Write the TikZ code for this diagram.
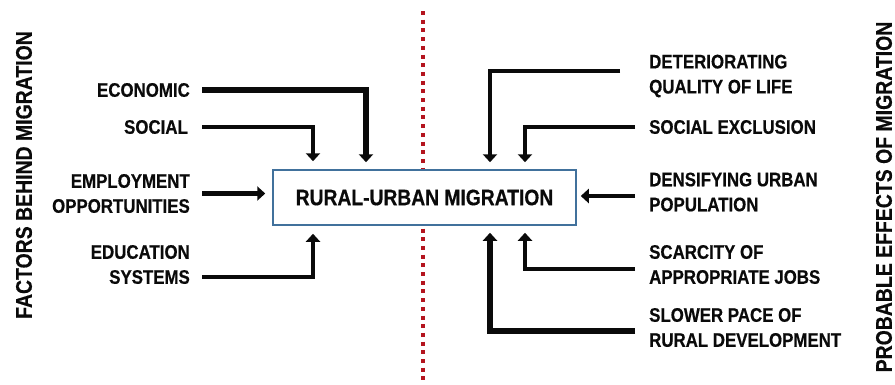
\documentclass[tikz,border=0pt]{standalone}
\usepackage{fontspec}
\setmainfont{Liberation Sans}[FakeStretch=0.86, BoldFeatures={FakeBold=0.5}]
\usetikzlibrary{arrows.meta}
\definecolor{boxblue}{RGB}{65,113,156}
\definecolor{dotred}{RGB}{180,20,30}
\definecolor{ink}{RGB}{10,10,10}
\begin{document}
\begin{tikzpicture}[x=1pt,y=-1pt,
  lbl/.style={font=\fontsize{19.6}{25}\selectfont\bfseries, inner sep=0pt, text=ink},
  side/.style={font=\fontsize{22.6}{26}\selectfont\bfseries, inner sep=0pt, rotate=90, text=ink},
  mainbox/.style={draw=boxblue, line width=1.5pt, fill=white, minimum width=303pt,
    minimum height=55pt, font=\fontsize{22.4}{26}\selectfont\bfseries, text=ink},
  arr/.style={line width=4.8pt, draw=ink, -{Triangle[width=14pt,length=8pt]}},
  divider/.style={draw=dotred, line width=4pt, dash pattern=on 4pt off 4.7pt},
]
\useasboundingbox (0,0) rectangle (895,384);
\coordinate (dtop) at (423,11);
\coordinate (dbot) at (423,382);
\draw[divider] (dtop) -- (dbot);
\node[mainbox] (mig) at (424.5,197.5) {RURAL-URBAN MIGRATION};

% left labels
\node[lbl, anchor=east] (eco) at (190,90) {ECONOMIC};
\node[lbl, anchor=east] (soc) at (188,127) {SOCIAL};
\node[lbl, anchor=east, align=right] (emp) at (190,193.5) {EMPLOYMENT\\OPPORTUNITIES};
\node[lbl, anchor=east, align=right] (edu) at (190,264.5) {EDUCATION\\SYSTEMS};

% right labels
\node[lbl, anchor=west, align=left] (det) at (649,76) {DETERIORATING\\QUALITY OF LIFE};
\node[lbl, anchor=west] (sex) at (649,127) {SOCIAL EXCLUSION};
\node[lbl, anchor=west, align=left] (den) at (649,192) {DENSIFYING URBAN\\POPULATION};
\node[lbl, anchor=west, align=left] (sca) at (649,264.5) {SCARCITY OF\\APPROPRIATE JOBS};
\node[lbl, anchor=west, align=left] (slo) at (649,327.5) {SLOWER PACE OF\\RURAL DEVELOPMENT};

% side titles
\node[side] (fac) at (24,175) {FACTORS BEHIND MIGRATION};
\node[side] (eff) at (884,197) {PROBABLE EFFECTS OF MIGRATION};

% left arrows
\draw[arr, line width=5.5pt] ([xshift=12pt]eco.east) -| ([xshift=-58.5pt,yshift=7pt]mig.north);
\draw[arr] ([xshift=14pt]soc.east) -| ([xshift=-111.5pt,yshift=8pt]mig.north);
\draw[arr] ([xshift=12pt]emp.east) -- ([xshift=-7pt]mig.west |- emp.east);
\draw[arr] ([xshift=12pt,yshift=-12.5pt]edu.east) -| ([xshift=-111.5pt,yshift=-8pt]mig.south);

% right arrows
\draw[arr] ([xshift=-29pt,yshift=5pt]det.west) -| ([xshift=65.5pt,yshift=7pt]mig.north);
\draw[arr] ([xshift=-14pt]sex.west) -| ([xshift=100.5pt,yshift=7pt]mig.north);
\draw[arr] ([xshift=-14pt,yshift=-4pt]den.west) -- ([xshift=4pt,yshift=-4pt]mig.east |- den.west);
\draw[arr] ([xshift=-14pt,yshift=-4.5pt]sca.west) -| ([xshift=100.5pt,yshift=-7pt]mig.south);
\draw[arr, line width=5.5pt] ([xshift=-14pt,yshift=-3.5pt]slo.west) -| ([xshift=65.5pt,yshift=-7pt]mig.south);
\end{tikzpicture}
\end{document}
